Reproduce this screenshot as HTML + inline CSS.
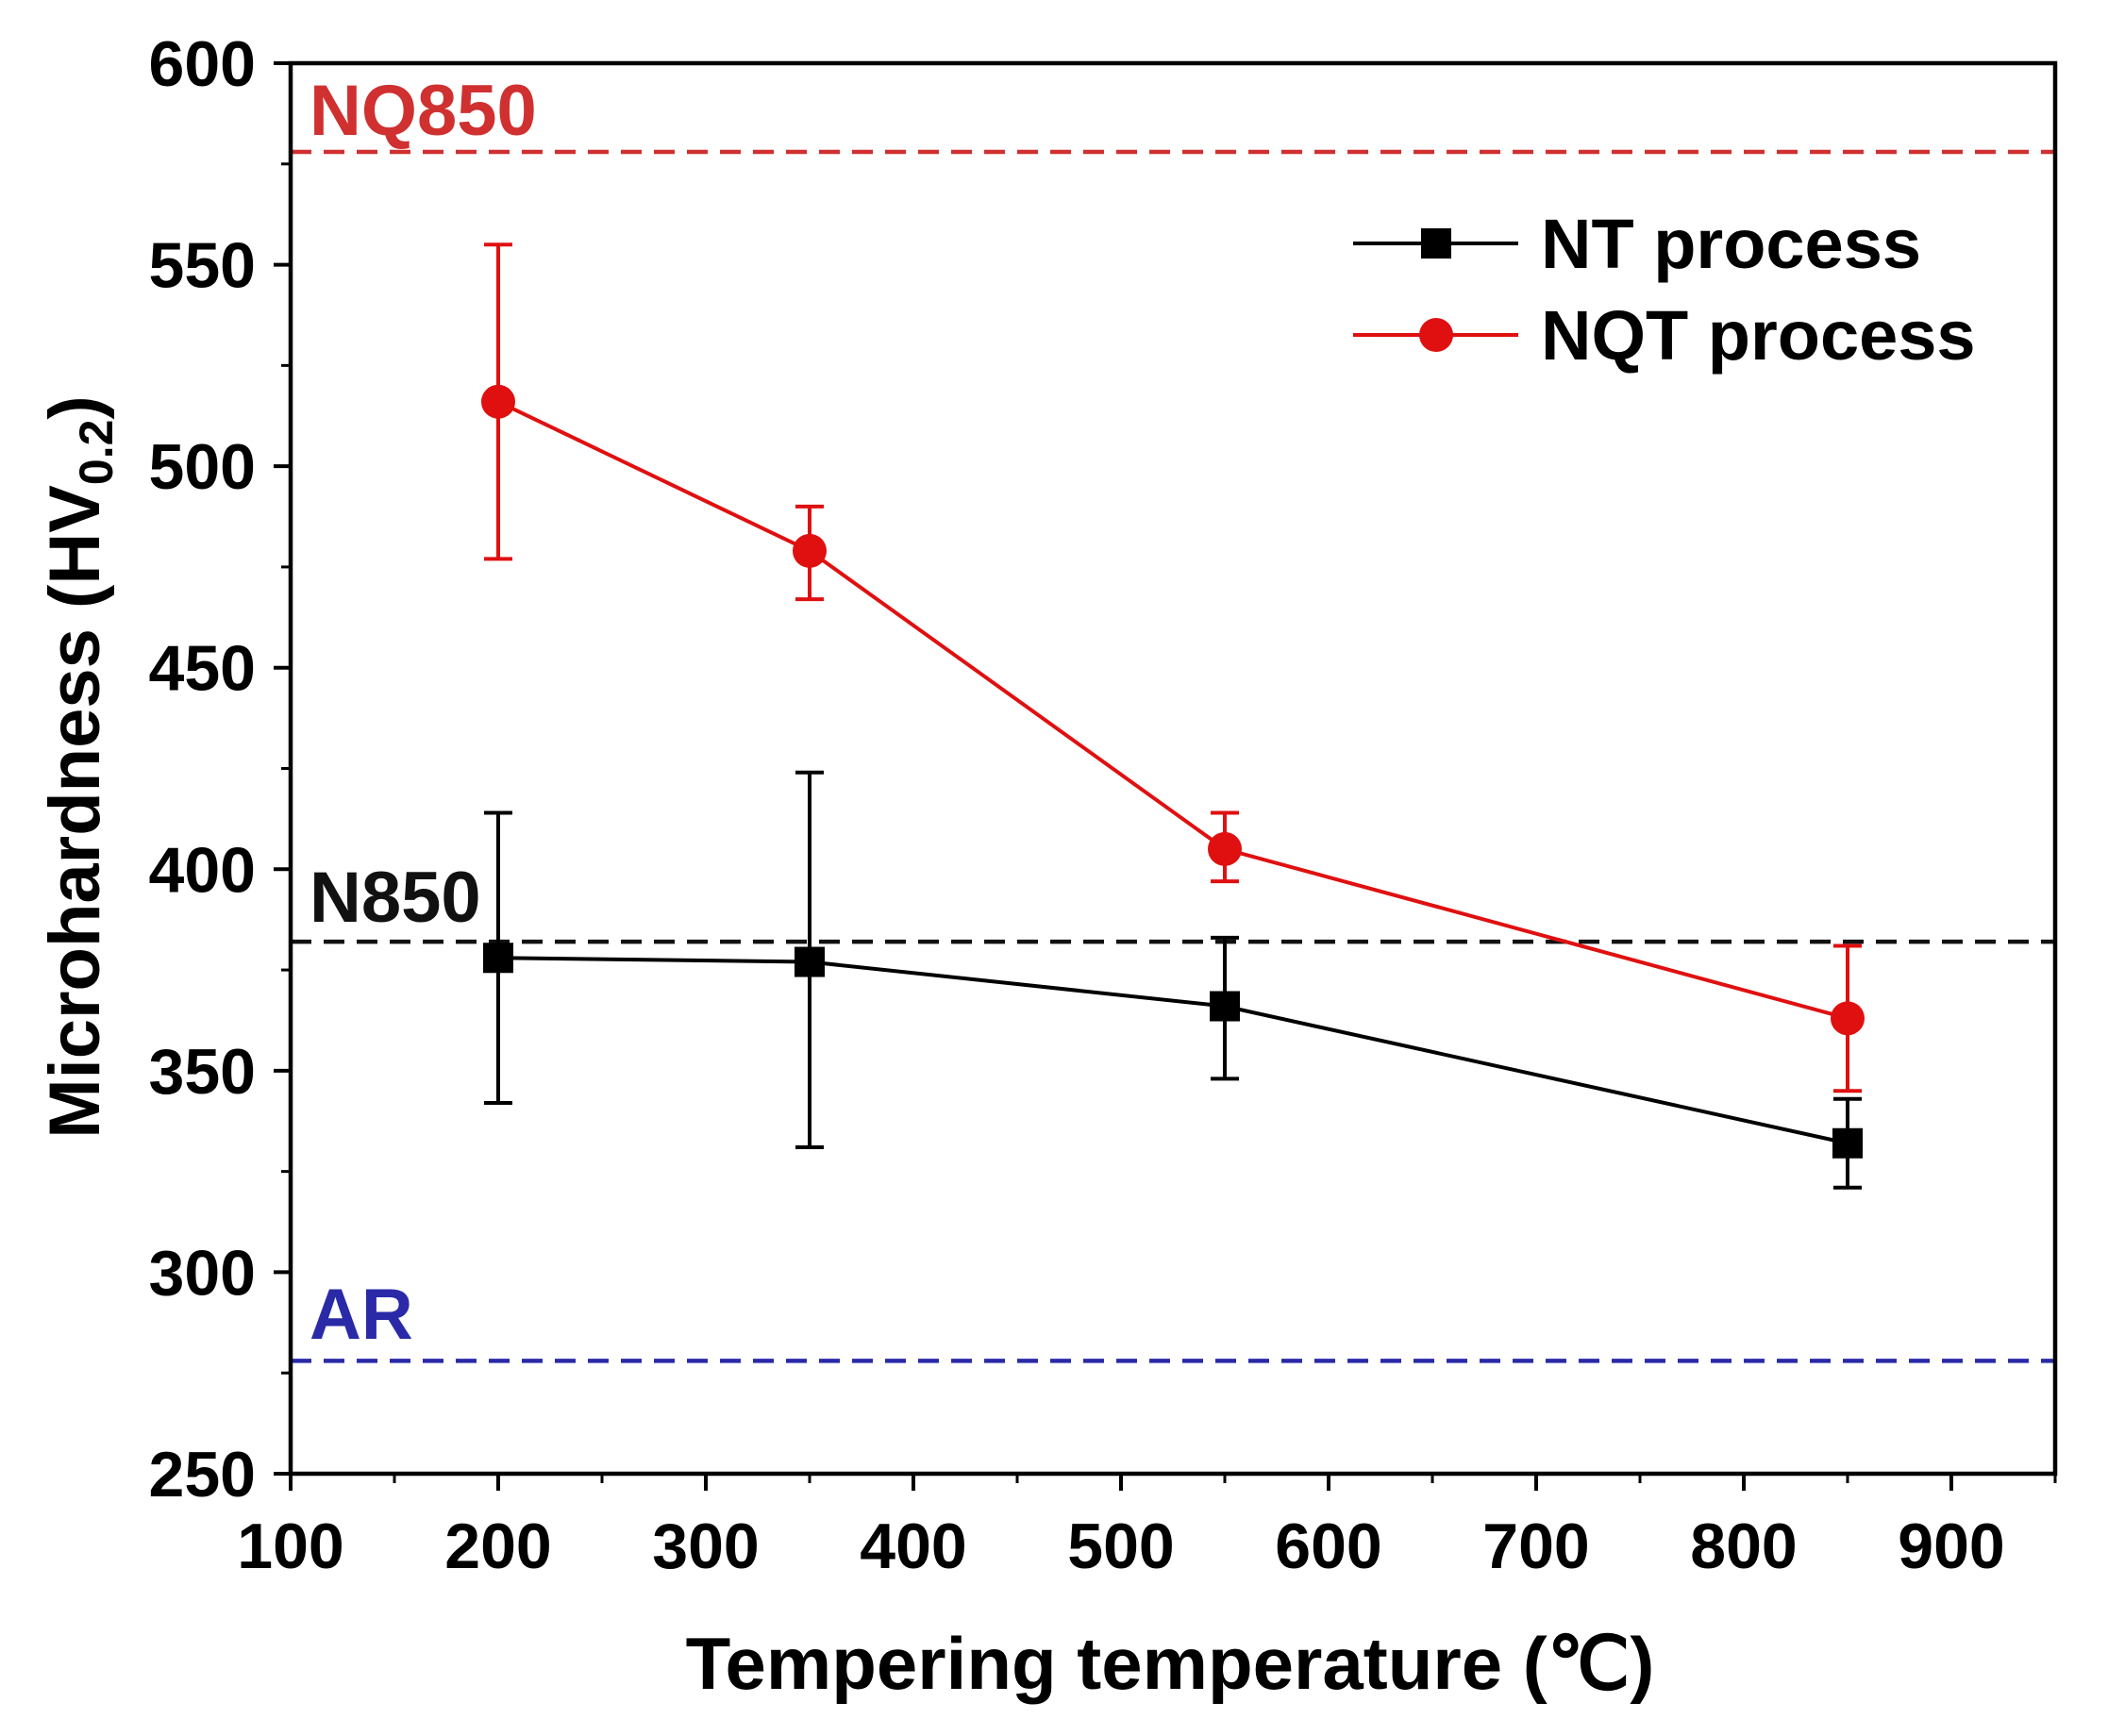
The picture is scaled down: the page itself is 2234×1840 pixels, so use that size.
<!DOCTYPE html>
<html><head><meta charset="utf-8"><style>
html,body{margin:0;padding:0;background:#fff}
svg{display:block;font-family:"Liberation Sans",Arial,sans-serif;font-weight:bold}
</style></head><body>
<svg id="chart" width="2234" height="1840" viewBox="0 0 2234 1840"></svg>
<script>
const categories=[200,350,550,850];
const ntValues=[378,377,366,332];
const ntLow=[342,331,348,321];
const ntHigh=[414,424,383,343];
const nqtValues=[516,479,405,363];
const nqtLow=[477,467,397,345];
const nqtHigh=[555,490,414,381];
const xTicks=[100,200,300,400,500,600,700,800,900];
const yTicks=[250,300,350,400,450,500,550,600];
const refNames=["NQ850","N850","AR"];
const refValues=[578,382,278];

const L=308,R=2178,T=67,B=1562;
const sx=v=>L+(v-100)*(2068-308)/800;
const sy=v=>B-(v-250)*(B-T)/350;
const svg=document.getElementById('chart');
const NS='http://www.w3.org/2000/svg';
function mk(tag,a,parent){const e=document.createElementNS(NS,tag);for(const k in a)e.setAttribute(k,a[k]);(parent||svg).appendChild(e);return e;}

const refColors=["#d03030","#111","#2a2aa8"];
const refLabelY=[143,977,1419];
refValues.forEach((v,i)=>{
  const l=mk('line',{x1:L,x2:R,y1:sy(v),y2:sy(v),stroke:refColors[i],'stroke-width':4.5,'stroke-dasharray':'22,13'});
  
  
  const t=mk('text',{x:328,y:refLabelY[i],fill:refColors[i],'font-size':76});
  t.textContent=refNames[i];
  
  
});

const fr=mk('rect',{x:L,y:T,width:R-L,height:B-T,fill:'none',stroke:'#000','stroke-width':4.5});



xTicks.forEach(v=>{
  mk('line',{x1:sx(v),x2:sx(v),y1:B,y2:B+18,stroke:'#000','stroke-width':4});
  if(v+50<=950) mk('line',{x1:sx(v+50),x2:sx(v+50),y1:B,y2:B+10,stroke:'#000','stroke-width':3});
  const t=mk('text',{x:sx(v),y:1662,'text-anchor':'middle','font-size':68});
  t.textContent=v;
  
  
});
yTicks.forEach(v=>{
  mk('line',{x1:L-18,x2:L,y1:sy(v),y2:sy(v),stroke:'#000','stroke-width':4});
  if(v+25<600) mk('line',{x1:L-10,x2:L,y1:sy(v+25),y2:sy(v+25),stroke:'#000','stroke-width':3});
  const t=mk('text',{x:271,y:sy(v)+24,'text-anchor':'end','font-size':68});
  t.textContent=v;
  
  
});

const xt=mk('text',{x:1240,y:1790,'text-anchor':'middle','font-size':78});
xt.textContent='Tempering temperature (℃)';


const yt=mk('text',{transform:'translate(105,813) rotate(-90)','text-anchor':'middle','font-size':76});
yt.innerHTML='Microhardness (HV<tspan font-size="50" dy="14">0.2</tspan><tspan dy="-14">)</tspan>';



function series(vals,lo,hi,color,isSquare,name){
  const pts=categories.map((c,i)=>sx(c)+','+sy(vals[i])).join(' ');
  const pl=mk('polyline',{points:pts,fill:'none',stroke:color,'stroke-width':4});
  
  
  categories.forEach((c,i)=>{
    const x=sx(c);
    const g=mk('g',{stroke:color,'stroke-width':4});
    mk('line',{x1:x,x2:x,y1:sy(lo[i]),y2:sy(hi[i])},g);
    mk('line',{x1:x-15,x2:x+15,y1:sy(lo[i]),y2:sy(lo[i])},g);
    mk('line',{x1:x-15,x2:x+15,y1:sy(hi[i]),y2:sy(hi[i])},g);
    
    
    let m;
    if(isSquare) m=mk('rect',{x:x-16,y:sy(vals[i])-16,width:32,height:32,fill:color});
    else m=mk('circle',{cx:x,cy:sy(vals[i]),r:18,fill:color});
    
    
  });
}
series(ntValues,ntLow,ntHigh,'#000',true,'nt');
series(nqtValues,nqtLow,nqtHigh,'#e01010',false,'nqt');

const lg=mk('g',{});


mk('line',{x1:1434,x2:1609,y1:258,y2:258,stroke:'#000','stroke-width':4},lg);
mk('rect',{x:1506,y:242,width:32,height:32,fill:'#000'},lg);
const t1=mk('text',{x:1633,y:284,'font-size':74},lg);t1.textContent='NT process';


mk('line',{x1:1434,x2:1609,y1:355,y2:355,stroke:'#e01010','stroke-width':4},lg);
mk('circle',{cx:1522,cy:355,r:18,fill:'#e01010'},lg);
const t2=mk('text',{x:1633,y:381,'font-size':74},lg);t2.textContent='NQT process';


</script>
</body></html>
